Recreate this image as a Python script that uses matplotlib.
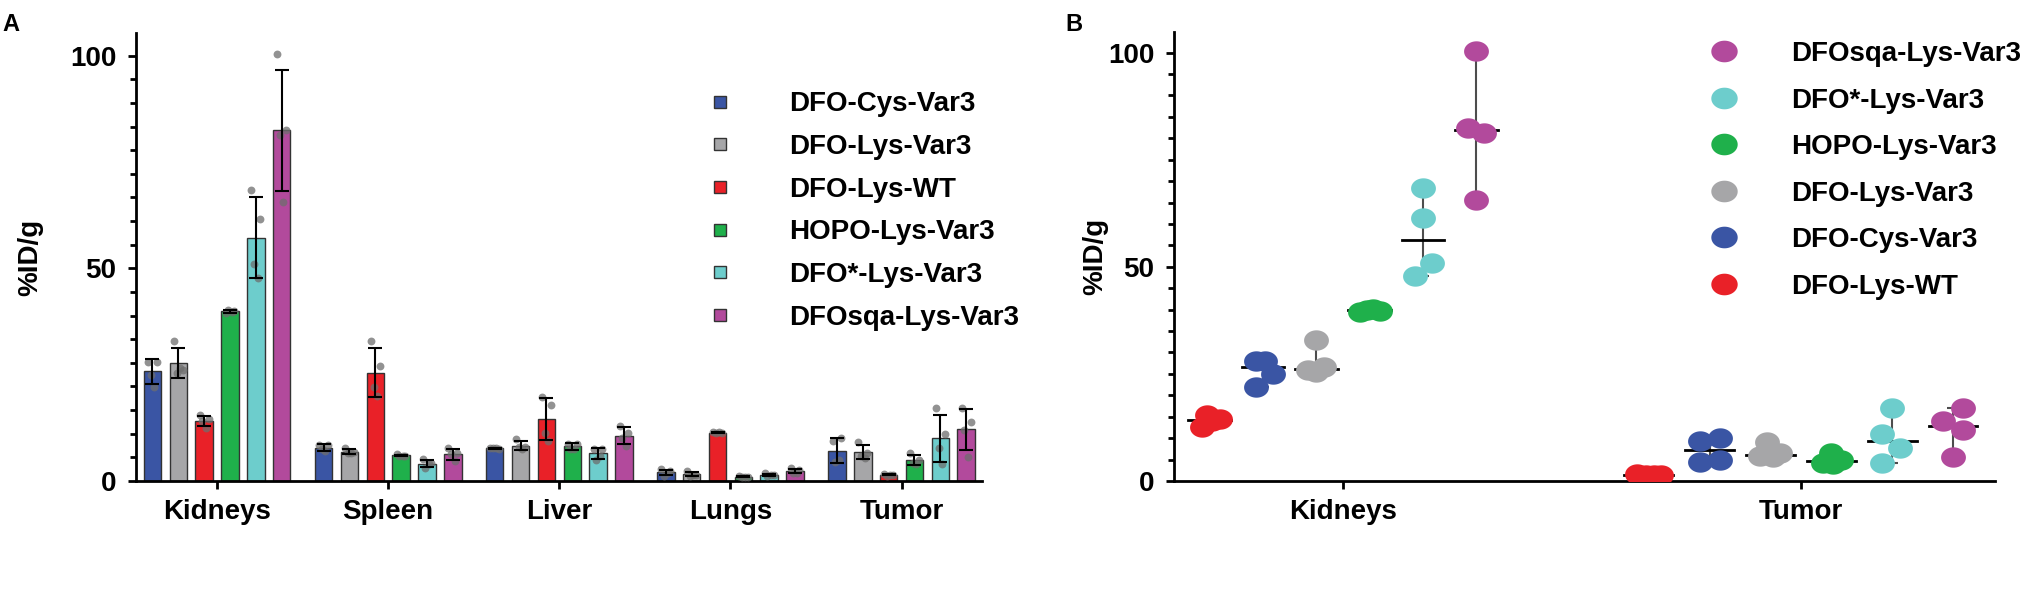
import numpy as np
import matplotlib
matplotlib.use("Agg")
import matplotlib.pyplot as plt
from matplotlib.lines import Line2D
from matplotlib.path import Path
from matplotlib.ticker import MultipleLocator

plt.rcParams['font.family'] = ['Liberation Sans', 'DejaVu Sans']
plt.rcParams['font.weight'] = 'bold'

# organs and constructs
organs = ['Kidneys', 'Spleen', 'Liver', 'Lungs', 'Tumor']
organs_b = ['Kidneys', 'Tumor']
constructs = ['DFO-Cys-Var3', 'DFO-Lys-Var3', 'DFO-Lys-WT',
              'HOPO-Lys-Var3', 'DFO*-Lys-Var3', 'DFOsqa-Lys-Var3']

# %ID/g per mouse, rows = organs (Kidneys, Spleen, Liver, Lungs, Tumor)
dfo_cys_var3 = [[28.0, 28.0, 25.0, 22.0],
                [8.5, 8.5, 7.5, 7.0],
                [7.8, 7.5, 7.7, 7.8],
                [2.8, 2.3, 1.2, 1.8],
                [9.4, 10.0, 4.4, 4.9]]
dfo_lys_var3 = [[33.0, 26.0, 25.5, 26.5],
                [7.8, 6.8, 6.5, 6.5],
                [9.8, 8.0, 8.0, 7.5],
                [2.3, 1.5, 1.2, 1.5],
                [9.2, 6.5, 5.8, 5.5]]
dfo_lys_wt = [[15.5, 14.5, 14.0, 12.5],
              [32.9, 27.1, 22.0, 20.0],
              [19.8, 17.9, 11.2, 9.5],
              [11.6, 11.3, 11.2, 11.5],
              [1.6, 1.5, 1.3, 1.4]]
hopo_lys_var3 = [[39.5, 40.0, 40.2, 39.8],
                 [6.3, 6.0, 6.0, 6.0],
                 [8.8, 8.8, 7.5, 7.5],
                 [1.1, 1.0, 0.9, 1.0],
                 [6.5, 5.0, 4.2, 3.9]]
dfo_star_lys_var3 = [[68.5, 61.5, 51.0, 47.8],
                     [5.2, 4.2, 3.0, 4.0],
                     [7.5, 7.5, 5.0, 6.0],
                     [1.8, 1.5, 1.3, 1.4],
                     [17.1, 11.0, 7.8, 4.1]]
dfosqa_lys_var3 = [[100.3, 82.5, 81.3, 65.5],
                   [7.8, 6.5, 6.3, 4.6],
                   [13.0, 11.2, 10.2, 8.3],
                   [3.0, 2.5, 2.0, 1.8],
                   [17.1, 13.9, 11.9, 5.7]]

series = [dfo_cys_var3, dfo_lys_var3, dfo_lys_wt,
          hopo_lys_var3, dfo_star_lys_var3, dfosqa_lys_var3]
colors = ['#3A55A4', '#A6A6A8', '#E92128', '#1FB04B', '#6DCDCC', '#B24A9C']

# panel B draws constructs in this order (index into constructs)
order_b = [2, 0, 1, 3, 4, 5]
# swarm offsets in pixels, per organ (Kidneys, Tumor), per construct in order_b
swarm_px = [
    [[-3, 10, 2, -8], [-7, 2, 10, -7], [0, -8, 0, 8],
     [-10, -3, 3, 10], [0, 0, 9, -8], [0, -8, 8, 0]],
    [[-12, -3, 5, 12], [-10, 10, -10, 10], [-3, 10, -10, 3],
     [0, 10, -8, 2], [0, -10, 8, -10], [10, -10, 10, 0]],
]
pitch_b = [0.1166, 0.133]

FS = 20
fig = plt.figure(figsize=(20.26, 6.12), dpi=100)
axA = fig.add_axes([0.0671, 0.214, 0.4176, 0.732])
axB = fig.add_axes([0.5795, 0.214, 0.4052, 0.7337])

for ax in (axA, axB):
    for s in ('top', 'right'):
        ax.spines[s].set_visible(False)
    for s in ('left', 'bottom'):
        ax.spines[s].set_linewidth(2.0)
    ax.tick_params(axis='y', which='major', length=6, width=2, labelsize=FS, pad=8)
    ax.tick_params(axis='y', which='minor', length=4, width=2)
    ax.tick_params(axis='x', which='major', length=6, width=2, labelsize=FS, pad=7)
    ax.set_yticks([0, 50, 100])
    ax.set_ylabel('%ID/g', fontsize=FS, fontweight='bold')

# ---- panel A: bars with SD and individual points ----
x = np.arange(len(organs))
pitch = 0.151
width = 0.102
jit = np.array([-0.25, 0.25, -0.1, 0.1]) * width
for i, (name, data, c) in enumerate(zip(constructs, series, colors)):
    arr = np.array(data)
    means = arr.mean(axis=1)
    sds = arr.std(axis=1, ddof=1)
    xs = x + (i - 2.5) * pitch
    axA.bar(xs, means, width=width, color=c, edgecolor='#333333', linewidth=1.0,
            zorder=2, label=name)
    for k in range(len(organs)):
        axA.scatter(xs[k] + jit, arr[k], s=32, color='#6E6E6E', alpha=0.75,
                    linewidths=0, zorder=3)
    axA.errorbar(xs, means, yerr=sds, fmt='none', ecolor='black', elinewidth=1.5,
                 capsize=5, capthick=1.5, zorder=4)

axA.set_xticks(x)
axA.set_xticklabels(organs, fontsize=FS, fontweight='bold')
axA.set_xlim(-0.474, 4.47)
axA.set_ylim(0, 105.3)
axA.yaxis.set_minor_locator(MultipleLocator(50 / 9))
axA.yaxis.set_label_coords(-0.109, 0.5)

handles_a = [Line2D([], [], marker='s', linestyle='none', markersize=9,
                    markerfacecolor=c, markeredgecolor='#333333', markeredgewidth=1)
             for c in colors]
axA.legend(handles_a, constructs, loc='upper left', bbox_to_anchor=(0.674, 0.87),
           frameon=False, handlelength=1.0, handletextpad=2.0,
           labelspacing=0.6, borderpad=0, borderaxespad=0,
           prop={'weight': 'bold', 'size': FS})

# ---- panel B: individual points with median and range ----
t = np.linspace(0, 2 * np.pi, 64)
ellipse = Path(np.column_stack([np.cos(t), 0.82 * np.sin(t)]))
px_per_unit = 0.4052 * 2026 / (1.424 + 0.369)
for g, organ in enumerate(organs_b):
    row = organs.index(organ)
    for j, ci in enumerate(order_b):
        vals = np.array(series[ci][row])
        xc = g + (j - 2.5) * pitch_b[g]
        xo = xc + np.array(swarm_px[g][j]) / px_per_unit
        med = np.median(vals)
        axB.errorbar([xc], [med], yerr=[[med - vals.min()], [vals.max() - med]],
                     fmt='none', ecolor='#4D4D4D', elinewidth=1.5, capsize=4,
                     capthick=1.5, zorder=1)
        hw = 0.4 * pitch_b[g]
        axB.plot([xc - hw, xc + hw], [med, med], color='black', lw=2, zorder=2)
        axB.scatter(xo, vals, s=320, marker=ellipse, color=colors[ci],
                    linewidths=0, zorder=3)

axB.set_xticks(range(len(organs_b)))
axB.set_xticklabels(organs_b, fontsize=FS, fontweight='bold')
axB.set_xlim(-0.369, 1.424)
axB.set_ylim(0, 104.8)
axB.yaxis.set_minor_locator(MultipleLocator(5))
axB.yaxis.set_label_coords(-0.080, 0.5)

legend_idx_b = order_b[::-1]
handles_b = [Line2D([], [], marker=ellipse, linestyle='none', markersize=19,
                    markerfacecolor=colors[i], markeredgewidth=0)
             for i in legend_idx_b]
axB.legend(handles_b, [constructs[i] for i in legend_idx_b], loc='upper left',
           bbox_to_anchor=(0.653, 0.98), frameon=False, handlelength=1.0,
           handletextpad=1.9, labelspacing=0.74, borderpad=0, borderaxespad=0,
           prop={'weight': 'bold', 'size': FS})

fig.text(0.001, 0.978, 'A', fontsize=17, fontweight='bold', va='top', ha='left')
fig.text(0.526, 0.978, 'B', fontsize=17, fontweight='bold', va='top', ha='left')

fig.savefig('out.png', dpi=100)
